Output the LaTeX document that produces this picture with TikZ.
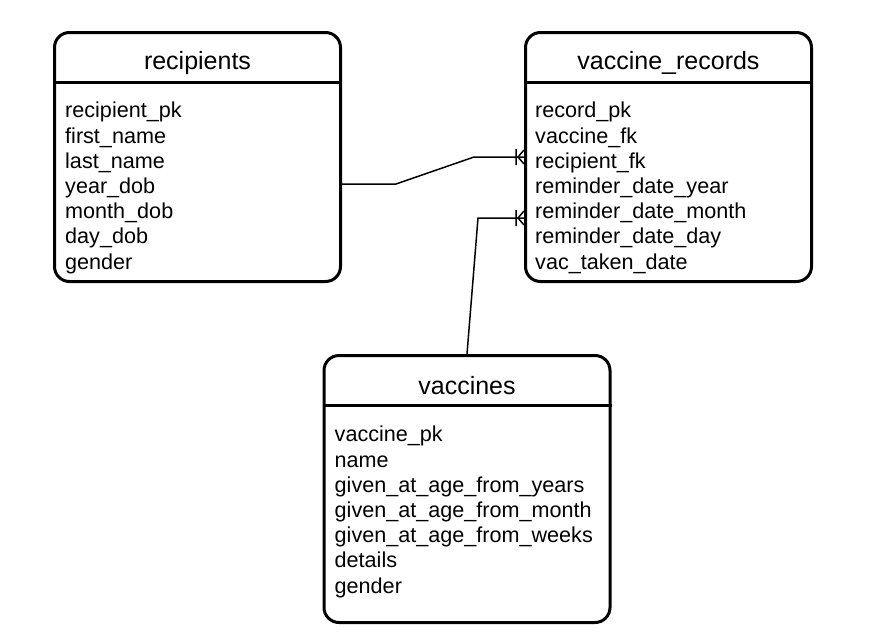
\documentclass[tikz,border=0pt]{standalone}
\usepackage{fontspec}
\setmainfont{Liberation Sans}
\usetikzlibrary{positioning}

\begin{document}
\begin{tikzpicture}
[x=1pt,y=-1pt,
entity/.style={rectangle,rounded corners=15pt,draw=black,line width=3pt,minimum width=286pt,minimum height=249pt,inner sep=0pt},
title/.style={font=\fontsize{25}{30}\selectfont,inner sep=0pt},
fields/.style={font=\fontsize{21.6}{25.2}\selectfont,align=left,inner sep=0pt,anchor=north west},
rel/.style={line width=1.5pt},
crowfoot/.pic={\draw[rel] (-6,0) -- (0,-7) (-6,0) -- (0,7) (-8,-8) -- (-8,8);},
]
\useasboundingbox (0,0) rectangle (889,638);

\node [entity] (recip) at (197.5,157) {};
\node [entity,right=182pt of recip] (recs) {};
\node [entity,minimum height=267pt] (vacc) at (467,489) {};

\node [title] (recipT) at ([yshift=-32pt]recip.north) {recipients};
\node [title] (recsT) at ([yshift=-32pt]recs.north) {vaccine\_records};
\node [title] (vaccT) at ([yshift=-32pt]vacc.north) {vaccines};

\draw[line width=3pt] ([yshift=-51.5pt]recip.north west) -- ([yshift=-51.5pt]recip.north east);
\draw[line width=3pt] ([yshift=-51.5pt]recs.north west) -- ([yshift=-51.5pt]recs.north east);
\draw[line width=3pt] ([yshift=-51.5pt]vacc.north west) -- ([yshift=-51.5pt]vacc.north east);

\node [fields] (recipF) at ([xshift=12pt,yshift=-71pt]recip.north west)
  {recipient\_pk\\first\_name\\last\_name\\year\_dob\\month\_dob\\day\_dob\\gender};
\node [fields] (recsF) at ([xshift=11pt,yshift=-71pt]recs.north west)
  {record\_pk\\vaccine\_fk\\recipient\_fk\\reminder\_date\_year\\reminder\_date\_month\\reminder\_date\_day\\vac\_taken\_date};
\node [fields] (vaccF) at ([xshift=12pt,yshift=-72pt]vacc.north west)
  {vaccine\_pk\\name\\given\_at\_age\_from\_years\\given\_at\_age\_from\_month\\given\_at\_age\_from\_weeks\\details\\gender};

% relations
\coordinate (r1) at ([yshift=-27pt]recip.east);
\coordinate (e1) at (recs.west);
\coordinate (e2) at ([yshift=-61pt]recs.west);
\draw[rel] (r1) -- (396,184) -- (474,157) -- (e1);
\draw[rel] (vacc.north) -- (478,218) -- (e2);
\pic at (e1) {crowfoot};
\pic at (e2) {crowfoot};
\end{tikzpicture}
\end{document}
